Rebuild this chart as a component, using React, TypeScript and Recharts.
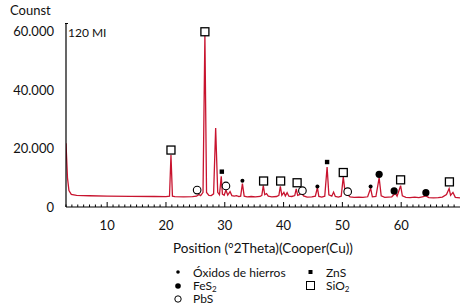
import React from 'react';
import { ComposedChart, Line, Scatter, XAxis, YAxis } from 'recharts';

// spectrum: [2theta, counts]
const spectrum: [number, number][] = [
  [3.0, 21800], [3.25, 10000], [3.5, 5600], [3.9, 4300], [4.8, 4000], [7, 3850], [10, 3750],
  [14, 3650], [18, 3600], [20.0, 3550], [20.6, 3700], [20.85, 17800], [21.1, 3700], [21.5, 3550],
  [23, 3500], [24.5, 3550], [25.2, 3700], [25.6, 4300], [25.9, 3900], [26.3, 5000], [26.62, 59000],
  [26.9, 5000], [27.3, 4000], [27.7, 3900], [28.1, 4500], [28.45, 27000], [28.8, 5000], [29.1, 4200],
  [29.4, 10500], [29.6, 4400], [29.9, 4000], [30.2, 5800], [30.5, 4100], [30.9, 5300], [31.2, 3900],
  [31.6, 3700], [32.0, 3900], [32.4, 3600], [32.7, 3700], [33.0, 8000], [33.3, 3700], [33.8, 3500],
  [34.5, 3600], [35.2, 3500], [36.0, 3600], [36.3, 4000], [36.55, 7300], [36.8, 4200], [37.1, 4600],
  [37.4, 3700], [38.0, 3500], [38.8, 3600], [39.2, 4000], [39.45, 7100], [39.7, 4000], [40.05, 5000],
  [40.3, 3800], [40.6, 4900], [40.9, 3700], [41.4, 3600], [41.9, 3900], [42.15, 6200], [42.4, 4000],
  [42.8, 4300], [43.1, 4700], [43.4, 3800], [44.0, 3400], [44.8, 3500], [45.4, 3700], [45.75, 6600],
  [46.0, 3600], [46.5, 3400], [47.0, 3700], [47.4, 13700], [47.7, 4200], [48.2, 3700], [48.5, 5100],
  [48.8, 3600], [49.3, 3400], [49.8, 3700], [50.15, 10300], [50.5, 4300], [50.9, 4200], [51.3, 3500],
  [52, 3300], [52.8, 3400], [53.5, 3300], [54.3, 3500], [54.8, 6400], [55.1, 3500], [55.7, 3600],
  [56.25, 10000], [56.6, 3800], [57.2, 3300], [57.8, 3400], [58.4, 3500], [59.0, 4700], [59.3, 3700],
  [59.9, 7300], [60.2, 3800], [60.8, 3300], [61.5, 3200], [62.3, 3400], [63.0, 3200], [63.6, 3500],
  [64.2, 3800], [64.7, 3200], [65.5, 3100], [66.3, 3200], [67.0, 3400], [67.7, 4300], [68.15, 6300],
  [68.4, 4000], [68.8, 5000], [69.2, 3300], [70, 3100],
];

// phase markers: [2theta, counts]
const sio2: [number, number][] = [
  [20.85, 19500], [26.62, 60000], [36.6, 8900], [39.5, 8900], [42.3, 8300], [50.15, 11800],
  [59.9, 9300], [68.2, 8600],
];
const pbs: [number, number][] = [[25.3, 5800], [30.2, 7200], [43.2, 5600], [50.9, 5250]];
const oxidos: [number, number][] = [[33.0, 9000], [45.75, 7000], [54.8, 7000]];
const zns: [number, number][] = [[29.5, 12100], [47.4, 15400]];
const fes2: [number, number][] = [[56.25, 11200], [58.8, 5500], [64.2, 4900]];

const yTicks = [0, 20000, 40000, 60000];
const xLabels = [10, 20, 30, 40, 50, 60];
const xTicks = Array.from({ length: 67 }, (_, i) => i + 3);

const toPts = (arr: [number, number][]) => arr.map(([x, y]) => ({ x, y }));

const FONT = 'Lato, sans-serif';
const RED = '#c8142f';

const XTick = (props: any) => {
  const { x, y, payload } = props;
  const major = xLabels.includes(payload.value);
  return (
    <g>
      <line x1={x} x2={x} y1={y} y2={y - (major ? 5 : 2.5)} stroke="#000" strokeWidth={1} />
      {major && (
        <text x={x} y={y + 23} textAnchor="middle" fontSize={13} fontFamily={FONT} fill="#111">
          {payload.value}
        </text>
      )}
    </g>
  );
};

const SquareOpen = (p: any) => (
  <rect x={p.cx - 4} y={p.cy - 4} width={8} height={8} fill="#fff" stroke="#000" strokeWidth={1.3} />
);
const CircleOpen = (p: any) => (
  <circle cx={p.cx} cy={p.cy} r={3.8} fill="#fff" stroke="#000" strokeWidth={1.1} />
);
const DotSmall = (p: any) => <circle cx={p.cx} cy={p.cy} r={2} fill="#000" />;
const DotBig = (p: any) => <circle cx={p.cx} cy={p.cy} r={3.6} fill="#000" />;
const SquareSmall = (p: any) => <rect x={p.cx - 2.2} y={p.cy - 2.2} width={4.4} height={4.4} fill="#000" />;

const fmt = (v: number) => (v === 0 ? '0' : v.toLocaleString('de-DE'));

export default function App() {
  return (
    <div style={{ position: 'absolute', left: 0, top: 0, width: 464, height: 308, background: '#fff' }}>
      <ComposedChart width={464} height={308} margin={{ top: 23, right: 4, left: 0, bottom: 0 }}>
        <XAxis
          dataKey="x"
          type="number"
          domain={[3, 70]}
          ticks={xTicks}
          interval={0}
          tick={<XTick />}
          tickLine={false}
          tickSize={0}
          tickMargin={0}
          height={101}
          axisLine={{ stroke: '#000', strokeWidth: 1.2 }}
          allowDataOverflow
        />
        <YAxis
          type="number"
          domain={[0, 63000]}
          ticks={yTicks}
          width={66}
          tickLine={false}
          tickSize={0}
          tickMargin={12}
          tickFormatter={fmt}
          tick={{ fontSize: 13, fontFamily: FONT, fill: '#111' }}
          axisLine={{ stroke: '#000', strokeWidth: 1.2 }}
          allowDataOverflow
        />
        <Line
          data={toPts(spectrum)}
          dataKey="y"
          type="linear"
          stroke={RED}
          strokeWidth={1.3}
          dot={false}
          isAnimationActive={false}
        />
        <Scatter data={toPts(sio2)} dataKey="y" shape={<SquareOpen />} isAnimationActive={false} />
        <Scatter data={toPts(pbs)} dataKey="y" shape={<CircleOpen />} isAnimationActive={false} />
        <Scatter data={toPts(oxidos)} dataKey="y" shape={<DotSmall />} isAnimationActive={false} />
        <Scatter data={toPts(zns)} dataKey="y" shape={<SquareSmall />} isAnimationActive={false} />
        <Scatter data={toPts(fes2)} dataKey="y" shape={<DotBig />} isAnimationActive={false} />
      </ComposedChart>
      <svg
        width={464}
        height={308}
        style={{ position: 'absolute', left: 0, top: 0, pointerEvents: 'none' }}
        fontFamily={FONT}
        fill="#111"
      >
        <text x={10} y={15} fontSize={13}>Counst</text>
        <line x1={65} x2={68} y1={23.5} y2={23.5} stroke="#000" strokeWidth={1} />
        <text x={68} y={37} fontSize={12}>120 MI</text>
        <text x={263} y={253} fontSize={13.5} textAnchor="middle">Position (°2Theta)(Cooper(Cu))</text>

        <circle cx={178} cy={272} r={1.8} fill="#000" />
        <text x={193} y={276.5} fontSize={12}>Óxidos de hierros</text>
        <circle cx={178} cy={286} r={2.8} fill="#000" />
        <text x={193} y={289.5} fontSize={12}>
          FeS<tspan fontSize={8} dy={2.5}>2</tspan>
        </text>
        <circle cx={178} cy={299} r={3.2} fill="#fff" stroke="#000" strokeWidth={1} />
        <text x={193} y={303} fontSize={12}>PbS</text>

        <rect x={308.5} y={270} width={4} height={4} fill="#000" />
        <text x={326} y={276.5} fontSize={12}>ZnS</text>
        <rect x={306.5} y={281.5} width={8} height={8} fill="#fff" stroke="#000" strokeWidth={1} />
        <text x={326} y={289.5} fontSize={12}>
          SiO<tspan fontSize={8} dy={2.5}>2</tspan>
        </text>
      </svg>
    </div>
  );
}
